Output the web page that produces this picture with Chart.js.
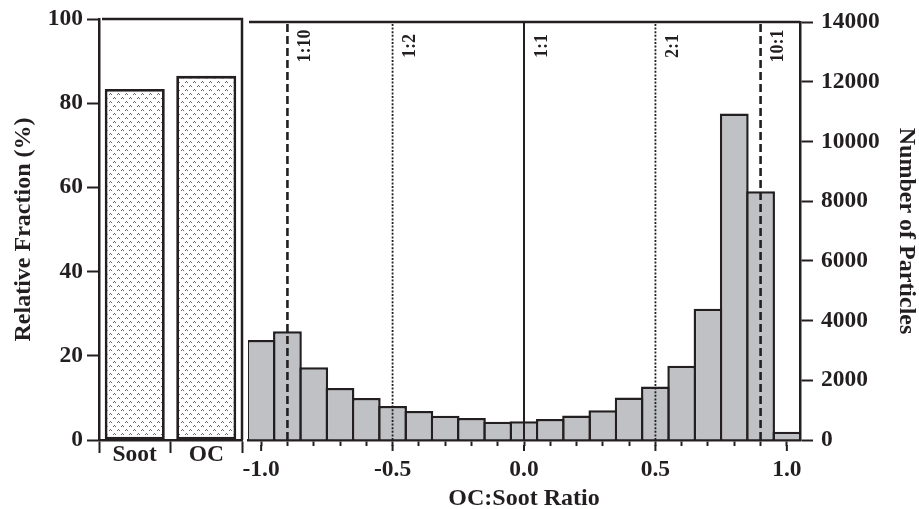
<!DOCTYPE html>
<html>
<head>
<meta charset="utf-8">
<script src="https://cdn.jsdelivr.net/npm/chart.js@4.4.1/dist/chart.umd.min.js"></script>
<style>
  html, body { margin: 0; padding: 0; background: #fff; }
  #wrap { position: relative; width: 919px; height: 509px; overflow: hidden; }
  #left { position: absolute; left: 0; top: 0; }
  #right { position: absolute; left: 215px; top: 0; }
</style>
</head>
<body>
<div id="wrap">
  <canvas id="left" width="246" height="509"></canvas>
  <canvas id="right" width="704" height="509"></canvas>
</div>
<script>
// --- left panel: share of particles containing each component ---
const compLabels = ['Soot', 'OC'];
const compFraction = [83.4, 86.5];
const fractionTicks = [0, 20, 40, 60, 80, 100];

// --- right panel: OC:Soot ratio histogram ---
const ratioBins = [-1.0, -0.9, -0.8, -0.7, -0.6, -0.5, -0.4, -0.3, -0.2, -0.1, 0.0,
                   0.1, 0.2, 0.3, 0.4, 0.5, 0.6, 0.7, 0.8, 0.9, 1.0];
const particleCounts = [3350, 3640, 2440, 1740, 1410, 1140, 975, 810, 740, 610, 630,
                        700, 820, 1000, 1420, 1790, 2490, 4400, 10940, 8335, 280];
const countTicks = [0, 2000, 4000, 6000, 8000, 10000, 12000, 14000];
const ratioTicks = [-1.0, -0.9, -0.8, -0.7, -0.6, -0.5, -0.4, -0.3, -0.2, -0.1, 0.0,
                    0.1, 0.2, 0.3, 0.4, 0.5, 0.6, 0.7, 0.8, 0.9, 1.0];
const ratioTickLabels = [-1.0, -0.5, 0.0, 0.5, 1.0];

// reference ratio lines
const refRatios = [-0.9, -0.5, 0.0, 0.5, 0.9];
const refLabels = ['1:10', '1:2', '1:1', '2:1', '10:1'];
const refKinds = ['dashed', 'dotted', 'solid', 'dotted', 'dashed'];

const ink = '#231f20';
const serif = "'Liberation Serif', 'Times New Roman', serif";
const tickFont = { family: serif, size: 23.5, weight: 'bold' };
const titleFont = { family: serif, size: 24, weight: 'bold' };
const lineStyles = {
    dashed: { width: 2.6, dash: [8, 4] },
    dotted: { width: 1.8, dash: [2, 1.6] },
    solid: { width: 2, dash: [] }
};

Chart.defaults.font.family = serif;
Chart.defaults.color = ink;

function dotPattern() {
    const c = document.createElement('canvas');
    c.width = 8; c.height = 8;
    const g = c.getContext('2d');
    g.fillStyle = '#fff';
    g.fillRect(0, 0, 8, 8);
    g.fillStyle = '#6a6a6a';
    [[1, 1], [5, 5]].forEach(([x, y]) => {
        g.fillRect(x + 1, y, 1, 1);
        g.fillRect(x, y + 1, 1, 1);
        g.fillRect(x + 2, y + 1, 1, 1);
    });
    return g.createPattern(c, 'repeat');
}

// top line (and optional right edge) of a panel
const framePlugin = {
    id: 'frame',
    afterDraw(chart, args, opts) {
        const { ctx, chartArea: a } = chart;
        ctx.save();
        ctx.strokeStyle = ink;
        ctx.lineWidth = 2.5;
        ctx.beginPath();
        ctx.moveTo(a.left + (opts.gap || 0), a.top);
        ctx.lineTo(a.right, a.top);
        if (opts.rightEdge) ctx.lineTo(a.right, a.bottom);
        ctx.stroke();
        ctx.restore();
    }
};

// longer ticks at labelled positions, ratio labels beside reference lines
const ratioDecor = {
    id: 'ratioDecor',
    afterDraw(chart) {
        const { ctx, chartArea: a } = chart;
        const xs = chart.scales.x;
        ctx.save();
        ctx.strokeStyle = ink;
        ctx.lineWidth = 2;
        ratioTickLabels.forEach(v => {
            const px = xs.getPixelForValue(v);
            ctx.beginPath();
            ctx.moveTo(px, a.bottom + 5);
            ctx.lineTo(px, a.bottom + 11);
            ctx.stroke();
        });
        ctx.fillStyle = ink;
        ctx.font = 'bold 18px ' + serif;
        ctx.textAlign = 'center';
        ctx.textBaseline = 'middle';
        refRatios.forEach((v, i) => {
            ctx.save();
            ctx.translate(xs.getPixelForValue(v) + 18, 46);
            ctx.rotate(-Math.PI / 2);
            ctx.fillText(refLabels[i], 0, 0);
            ctx.restore();
        });
        ctx.restore();
    }
};

new Chart(document.getElementById('left'), {
    type: 'bar',
    data: {
        labels: compLabels,
        datasets: [{
            data: compFraction,
            backgroundColor: dotPattern(),
            borderColor: ink,
            borderWidth: 2.8,
            borderSkipped: false,
            categoryPercentage: 1,
            barPercentage: 0.84
        }]
    },
    options: {
        responsive: false,
        animation: false,
        layout: { padding: { left: 0, top: 19, right: 4, bottom: 0 } },
        plugins: { legend: { display: false }, tooltip: { enabled: false }, frame: { gap: 3, rightEdge: true } },
        scales: {
            x: {
                grid: { offset: true, drawOnChartArea: false, tickLength: 13, tickColor: ink, tickWidth: 2 },
                border: { color: ink, width: 2.5 },
                ticks: { font: tickFont, color: ink, padding: -12 },
                afterFit: s => { s.height = 69; }
            },
            y: {
                min: 0, max: 100,
                afterBuildTicks: s => { s.ticks = fractionTicks.map(v => ({ value: v })); },
                grid: { drawOnChartArea: false, tickLength: 12, tickColor: ink, tickWidth: 2 },
                border: { color: ink, width: 2.5 },
                ticks: { font: tickFont, color: ink, padding: 4 },
                title: { display: true, text: 'Relative Fraction (%)', font: titleFont, color: ink, padding: { top: 9.6, bottom: 0 } },
                afterFit: s => { s.width = 99; }
            }
        }
    },
    plugins: [framePlugin]
});

const refDatasets = refRatios.map((v, i) => ({
    type: 'line',
    data: [{ x: v, y: 0 }, { x: v, y: countTicks[countTicks.length - 1] }],
    borderColor: ink,
    borderWidth: lineStyles[refKinds[i]].width,
    borderDash: lineStyles[refKinds[i]].dash,
    pointRadius: 0,
    fill: false,
    order: 0
}));

new Chart(document.getElementById('right'), {
    type: 'bar',
    data: {
        datasets: [...refDatasets, {
            type: 'bar',
            data: ratioBins.map((b, i) => ({ x: b, y: particleCounts[i] })),
            backgroundColor: '#bfc1c4',
            borderColor: ink,
            borderWidth: 2.5,
            categoryPercentage: 1,
            barPercentage: 1.095,
            order: 1
        }]
    },
    options: {
        responsive: false,
        animation: false,
        layout: { padding: { left: 33, top: 19, right: 0, bottom: 0 } },
        plugins: { legend: { display: false }, tooltip: { enabled: false }, frame: { gap: 1 } },
        scales: {
            x: {
                type: 'linear',
                min: -1.05, max: 1.05,
                offset: false,
                afterBuildTicks: s => { s.ticks = ratioTicks.map(v => ({ value: v })); },
                grid: { offset: false, drawOnChartArea: false, tickLength: 6, tickColor: ink, tickWidth: 2 },
                border: { color: ink, width: 2.5 },
                ticks: {
                    autoSkip: false, maxRotation: 0, font: tickFont, color: ink, padding: 10,
                    callback: v => ratioTickLabels.some(t => Math.abs(t - v) < 1e-6) ? v.toFixed(1) : ''
                },
                title: { display: true, text: 'OC:Soot Ratio', font: titleFont, color: ink, padding: { top: 0, bottom: -4 } },
                afterFit: s => { s.height = 69; }
            },
            y: {
                position: 'right',
                min: 0, max: 14000,
                afterBuildTicks: s => { s.ticks = countTicks.map(v => ({ value: v })); },
                grid: { drawOnChartArea: false, tickLength: 13, tickColor: ink, tickWidth: 2 },
                border: { color: ink, width: 2.5 },
                ticks: { font: tickFont, color: ink, padding: 8, callback: v => String(v) },
                title: { display: true, text: 'Number of Particles', font: titleFont, color: ink, padding: { top: -2, bottom: 0 } },
                afterFit: s => { s.width = 119; }
            }
        }
    },
    plugins: [framePlugin, ratioDecor]
});
</script>
</body>
</html>
